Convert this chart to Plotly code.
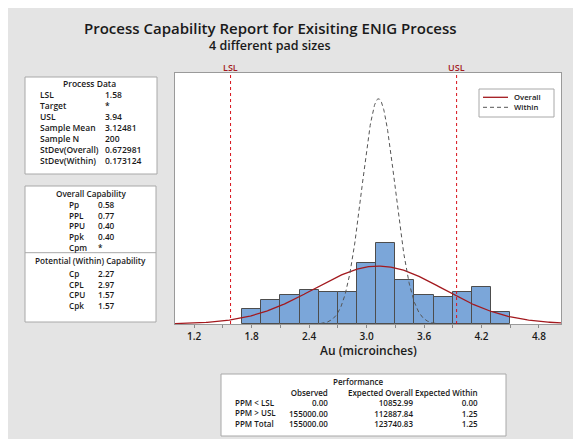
import numpy as np
import plotly.graph_objects as go

# ---------------- data ----------------
LSL = 1.58
USL = 3.94
TARGET = "*"
SAMPLE_MEAN = 3.12481
SAMPLE_N = 200
STDEV_OVERALL = 0.672981
STDEV_WITHIN = 0.173124

BIN_START = 1.7
BIN_WIDTH = 0.2
bin_counts = [6, 10, 12, 14, 13, 13, 25, 33, 18, 12, 11, 13, 15, 5]

x_tick_vals = [1.2, 1.8, 2.4, 3.0, 3.6, 4.2, 4.8]
x_tick_text = ["1.2", "1.8", "2.4", "3.0", "3.6", "4.2", "4.8"]

process_labels = ["LSL", "Target", "USL", "Sample Mean", "Sample N", "StDev(Overall)", "StDev(Within)"]
process_values = ["1.58", "*", "3.94", "3.12481", "200", "0.672981", "0.173124"]

overall_cap_labels = ["Pp", "PPL", "PPU", "Ppk", "Cpm"]
overall_cap_values = ["0.58", "0.77", "0.40", "0.40", "*"]
within_cap_labels = ["Cp", "CPL", "CPU", "Cpk"]
within_cap_values = ["2.27", "2.97", "1.57", "1.57"]

perf_rows = ["PPM < LSL", "PPM > USL", "PPM Total"]
perf_cols = ["Observed", "Expected Overall", "Expected Within"]
perf_observed = ["0.00", "155000.00", "155000.00"]
perf_exp_overall = ["10852.99", "112887.84", "123740.83"]
perf_exp_within = ["0.00", "1.25", "1.25"]

# ---------------- layout geometry ----------------
W, H = 581, 439
OFF = 8  # page body margin
PL, PR, PT, PB = 175, 561, 73, 324  # plot area in screenshot pixels
FONT = "Open Sans"
TXT = "#1a1a1a"
BOXLINE = "#a8a8a8"
RED_DARK = "#a3191e"
GRAY_BG = "#e4e4e4"


def fx(px):
    return (px - PL) / (PR - PL)


def fy(py):
    return (PB - py) / (PB - PT)


# ---------------- traces ----------------
bin_centers = [BIN_START + BIN_WIDTH * (i + 0.5) for i in range(len(bin_counts))]

fig = go.Figure()
fig.add_trace(go.Bar(
    x=bin_centers, y=bin_counts, width=BIN_WIDTH,
    marker=dict(color="#7ba6d9", line=dict(color="#4d4d4d", width=1)),
    showlegend=False, hoverinfo="x+y"))


def normal_curve(mean, sd, lo, hi):
    xs = np.linspace(max(lo, mean - 3.5 * sd), min(hi, mean + 3.5 * sd), 300)
    ys = SAMPLE_N * BIN_WIDTH * np.exp(-0.5 * ((xs - mean) / sd) ** 2) / (sd * np.sqrt(2 * np.pi))
    return xs, ys


X_RANGE = [1.0, 5.03]
xo, yo = normal_curve(SAMPLE_MEAN, STDEV_OVERALL, X_RANGE[0], X_RANGE[1])
xw, yw = normal_curve(SAMPLE_MEAN, STDEV_WITHIN, X_RANGE[0], X_RANGE[1])
fig.add_trace(go.Scatter(x=xo, y=yo, mode="lines", name="Overall",
                         line=dict(color=RED_DARK, width=1.3), showlegend=False))
fig.add_trace(go.Scatter(x=xw, y=yw, mode="lines", name="Within",
                         line=dict(color="#555555", width=1, dash="4px,3px"), showlegend=False))

shapes = []
annotations = []

# spec limit lines
for val, lab in [(LSL, "LSL"), (USL, "USL")]:
    shapes.append(dict(type="line", xref="x", yref="paper", x0=val, x1=val, y0=0, y1=1,
                       line=dict(color="#d8121b", width=1, dash="dot")))
    annotations.append(dict(x=val, xref="x", y=fy(67), yref="paper", text=lab, showarrow=False,
                            xanchor="center", yanchor="middle", borderpad=0,
                            font=dict(family=FONT, size=9, color=RED_DARK, weight=600)))


def box(x0, x1, y0, y1):
    shapes.append(dict(type="rect", xref="paper", yref="paper", x0=fx(x0), x1=fx(x1), y0=fy(y1), y1=fy(y0),
                       fillcolor="white", line=dict(color=BOXLINE, width=1)))


def text(px, py, s, anchor="left", size=7.6, weight=600):
    annotations.append(dict(x=fx(px), y=fy(py), xref="paper", yref="paper", text=s, showarrow=False,
                            xanchor=anchor, yanchor="middle", align=anchor, borderpad=0,
                            font=dict(family=FONT, size=size, color=TXT, weight=weight)))


def column(px, py_first, lines, size, anchor="left", weight=600):
    spacing = 1.3 * size
    yc = py_first + (len(lines) - 1) * spacing / 2
    text(px, yc, "<br>".join(lines), anchor, size, weight)


# title
text(270, 28, "Process Capability Report for Exisiting ENIG Process", "center", 15, 600)
text(270, 45, "4 different pad sizes", "center", 12.5, 600)

# Process Data box
PDS = 8.5
box(25, 157, 77, 174)
text(89, 83.4, "Process Data", "center", PDS)
column(39, 94.3, process_labels, PDS)
column(104, 94.3, process_values, PDS)

# Capability box
CS = 8.2
box(25, 156, 186, 322)
shapes.append(dict(type="line", xref="paper", yref="paper", x0=fx(25), x1=fx(156), y0=fy(252.7), y1=fy(252.7),
                   line=dict(color=BOXLINE, width=1)))
text(90.5, 193.4, "Overall Capability", "center", CS)
column(68, 204.3, overall_cap_labels, CS)
column(96.5, 204.3, overall_cap_values, CS)
text(90.5, 260, "Potential (Within) Capability", "center", CS)
column(68, 274, within_cap_labels, CS)
column(96.5, 274, within_cap_values, CS)

# Performance box
PS = 8.0
box(221, 506, 374, 436)
text(358, 381.3, "Performance", "center", PS)
col_x = [329.3, 414, 479.3]
col_vals = [perf_observed, perf_exp_overall, perf_exp_within]
for cx, head, vals in zip(col_x, perf_cols, col_vals):
    column(cx, 392.5, [head] + vals, PS, "right")
column(234, 392.5 + 1.3 * PS, perf_rows, PS)

# legend (manual)
box(479, 554, 89, 117)
shapes.append(dict(type="line", xref="paper", yref="paper", x0=fx(483), x1=fx(508), y0=fy(97.3), y1=fy(97.3),
                   line=dict(color=RED_DARK, width=1.3)))
shapes.append(dict(type="line", xref="paper", yref="paper", x0=fx(483), x1=fx(508), y0=fy(107.3), y1=fy(107.3),
                   line=dict(color="#555555", width=1, dash="4px,3px")))
column(513, 97.3, ["Overall", "Within"], 7.7)

# x-axis title
text(368, 350, "Au (microinches)", "center", 12, 600)

fig.update_layout(
    width=W, height=H,
    margin=dict(l=PL - OFF, r=W - (PR - OFF), t=PT - OFF, b=H - (PB - OFF), pad=0),
    paper_bgcolor=GRAY_BG, plot_bgcolor="white",
    shapes=shapes, annotations=annotations,
    bargap=0, showlegend=False,
    font=dict(family=FONT, color=TXT),
    xaxis=dict(range=X_RANGE, tickvals=x_tick_vals, ticktext=x_tick_text,
               ticks="outside", ticklen=3, tickcolor="#8a8a8a", tickwidth=1,
               minor=dict(ticks="outside", ticklen=3, tickcolor="#8a8a8a", tick0=1.5, dtick=0.6),
               showline=True, linecolor="#9a9a9a", linewidth=1, mirror=True,
               showgrid=False, zeroline=False,
               tickfont=dict(family=FONT, size=10, color=TXT, weight=600)),
    yaxis=dict(range=[0, 102.7], showticklabels=False, ticks="", showgrid=False, zeroline=False,
               showline=True, linecolor="#9a9a9a", linewidth=1, mirror=True),
)

fig.write_html("out.html")
